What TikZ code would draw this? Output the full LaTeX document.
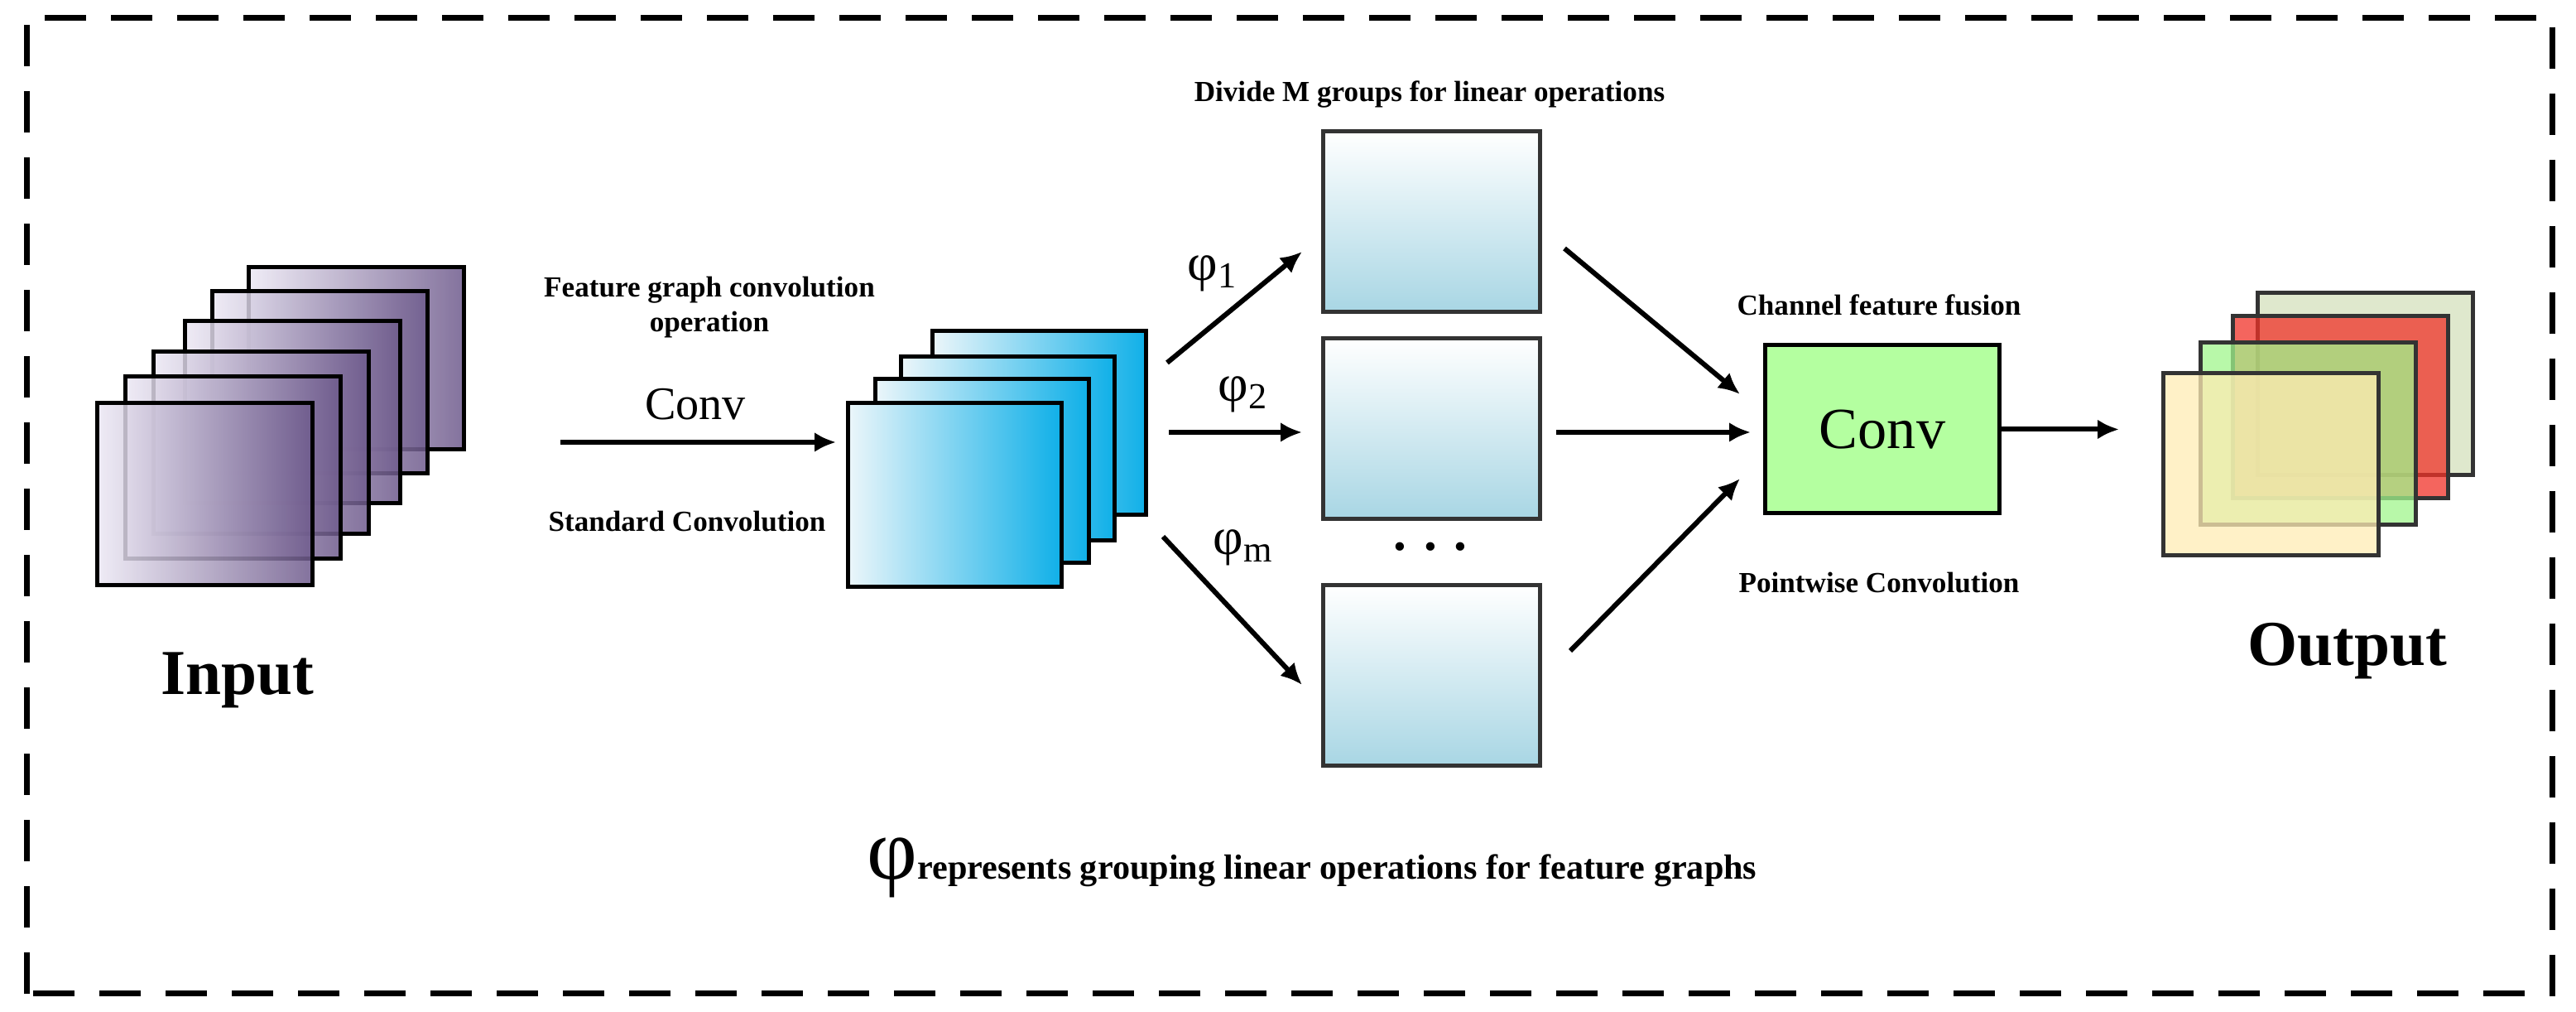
\documentclass[tikz,border=0pt]{standalone}
\usepackage{fontspec}
\setmainfont{Liberation Serif}
\usetikzlibrary{arrows.meta}
\usetikzlibrary{calc}
\tikzset{>={Latex[length=2.6mm,width=2.4mm]}}
\definecolor{inlight}{RGB}{236,232,244}
\definecolor{inmid}{RGB}{212,200,226}
\definecolor{indark}{RGB}{110,90,140}
\definecolor{bllight}{RGB}{236,246,250}
\definecolor{blmid}{RGB}{150,208,228}
\definecolor{bldark}{RGB}{16,176,232}
\definecolor{grpblue}{RGB}{168,214,228}
\definecolor{convgreen}{RGB}{180,255,160}
\definecolor{outolive}{RGB}{212,224,188}
\definecolor{outred}{RGB}{240,50,40}
\definecolor{outgreen}{RGB}{160,245,140}
\definecolor{outyellow}{RGB}{255,236,180}
\tikzstyle{inmap}=[draw=black,line width=0.5mm,minimum width=2.6cm,minimum height=2.2cm,left color=inlight,middle color=inmid,right color=indark,fill opacity=0.85]
\tikzstyle{blmap}=[draw=black,line width=0.5mm,minimum width=2.58cm,minimum height=2.22cm,shading=axis,shading angle=135,left color=bllight,middle color=blmid,right color=bldark]
\tikzstyle{grpmap}=[draw=black!80,line width=0.5mm,minimum width=2.62cm,minimum height=2.18cm,top color=white,bottom color=grpblue]
\tikzstyle{outmap}=[draw=black!80,line width=0.5mm,minimum width=2.6cm,minimum height=2.2cm,fill opacity=0.75]
\tikzstyle{arr}=[->,line width=0.6mm]
\tikzstyle{lbl}=[font=\bfseries\fontsize{10}{12}\selectfont]
\tikzstyle{philbl}=[font=\fontsize{18}{20}\selectfont]

\begin{document}
\begin{tikzpicture}
  \useasboundingbox (0,0) rectangle (31.12,12.22);
  \draw[line width=0.7mm,dash pattern=on 5mm off 3mm] (0.32,0.22) rectangle (30.83,12.0);

  % input stack
  \foreach \cx/\cy [count=\i] in {4.30/7.89,3.86/7.60,3.53/7.24,3.15/6.87,2.81/6.57,2.47/6.25}
    \node[inmap] (in\i) at (\cx,\cy) {};
  \node[font=\bfseries\fontsize{22}{26}\selectfont] (input) at (2.87,4.01) {Input};

  % conv
  \coordinate (c0) at (6.77,6.88);
  \coordinate (c1) at (10.10,6.88);
  \draw[arr] (c0) -- (c1);
  \node[font=\fontsize{16}{18}\selectfont] (convlbl) at (8.40,7.34) {Conv};
  \node[lbl,align=center] (featlbl) at (8.57,8.51) {Feature graph convolution\\operation};
  \node[lbl] (stdlbl) at (8.30,5.92) {Standard Convolution};

  % blue stack
  \foreach \cx/\cy [count=\i] in {12.55/7.11,12.17/6.80,11.86/6.53,11.53/6.24}
    \node[blmap] (bl\i) at (\cx,\cy) {};

  % groups
  \node[grpmap] (g1) at (17.29,9.54) {};
  \node[grpmap] (g2) at (17.29,7.045) {};
  \node[grpmap] (g3) at (17.29,4.06) {};
  \node[font=\bfseries\fontsize{18}{20}\selectfont] (dots) at (17.28,5.62) {.\,\,.\,\,.};
  \node[lbl] (divlbl) at (17.27,11.08) {Divide M groups for linear operations};

  \coordinate (p1a) at (14.10,7.84); \coordinate (p1b) at (15.73,9.18);
  \coordinate (p2a) at (14.12,7.00); \coordinate (p2b) at (15.73,7.00);
  \coordinate (p3a) at (14.05,5.74); \coordinate (p3b) at (15.73,3.95);
  \draw[arr] (p1a) -- (p1b);
  \draw[arr] (p2a) -- (p2b);
  \draw[arr] (p3a) -- (p3b);
  \node[philbl] (phi1) at (14.65,8.92) {φ\textsubscript{1}};
  \node[philbl] (phi2) at (15.02,7.46) {φ\textsubscript{2}};
  \node[philbl] (phim) at (15.02,5.61) {φ\textsubscript{m}};

  % pointwise conv
  \node[draw=black,line width=0.5mm,fill=convgreen,minimum width=2.83cm,minimum height=2.03cm,font=\fontsize{20}{22}\selectfont] (pw) at (22.74,7.035) {Conv};
  \node[lbl] (fuslbl) at (22.70,8.54) {Channel feature fusion};
  \node[lbl] (pwlbl) at (22.70,5.18) {Pointwise Convolution};
  \coordinate (q1a) at (18.90,9.22); \coordinate (q1b) at (21.02,7.46);
  \coordinate (q2a) at (18.80,7.00); \coordinate (q2b) at (21.15,7.00);
  \coordinate (q3a) at (18.97,4.36); \coordinate (q3b) at (21.02,6.44);
  \draw[arr] (q1a) -- (q1b);
  \draw[arr] (q2a) -- (q2b);
  \draw[arr] (q3a) -- (q3b);
  \coordinate (r0) at (25.60,7.035);
  \draw[arr] (pw.east) -- (r0);

  % output stack
  \node[outmap,fill=outolive] (out1) at (28.575,7.58) {};
  \node[outmap,fill=outred] (out2) at (28.27,7.305) {};
  \node[outmap,fill=outgreen] (out3) at (27.885,6.98) {};
  \node[outmap,fill=outyellow] (out4) at (27.43,6.61) {};
  \node[font=\bfseries\fontsize{22}{26}\selectfont] (output) at (28.36,4.36) {Output};

  \node[font=\bfseries\fontsize{12}{15}\selectfont] (note) at (15.85,1.74)
    {{\fontsize{30}{32}\selectfont\mdseries φ}represents grouping linear operations for feature graphs};
\end{tikzpicture}
\end{document}
